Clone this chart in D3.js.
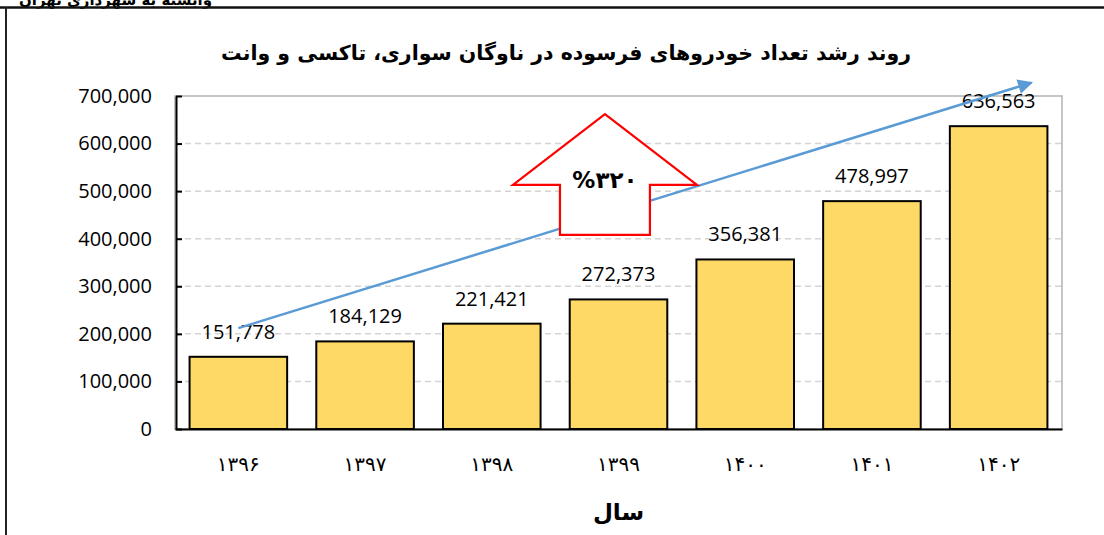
<!DOCTYPE html>
<html>
<head>
<meta charset="utf-8">
<script src="https://cdn.jsdelivr.net/npm/d3@7"></script>
<style>
  body { margin: 0; background: #fff; }
  svg { display: block; }
</style>
</head>
<body>
<div id="chart"></div>
<script>
// Données du graphique
const years = ["۱۳۹۶", "۱۳۹۷", "۱۳۹۸", "۱۳۹۹", "۱۴۰۰", "۱۴۰۱", "۱۴۰۲"];
const counts = [151778, 184129, 221421, 272373, 356381, 478997, 636563];
const yTicks = [0, 100000, 200000, 300000, 400000, 500000, 600000, 700000];
const title = "روند رشد تعداد خودروهای فرسوده در ناوگان سواری، تاکسی و وانت";
const xTitle = "سال";
const growthLabel = "%۳۲۰";
// flèche de tendance (index de catégorie, valeur)
const trendFrom = [0, 212000];
const trendTo = [6.26, 728000];

const width = 1104, height = 535;
const plot = { left: 175, right: 1062, top: 96, bottom: 429 };

const svg = d3.select("#chart").append("svg")
  .attr("width", width)
  .attr("height", height);

// Cadre extérieur (en-tête coupé en haut à gauche)
svg.append("text")
  .attr("x", 212).attr("y", 5)
  .attr("text-anchor", "end")
  .style("font-family", "DejaVu Sans")
  .style("font-weight", "bold")
  .style("font-size", "15px")
  .text("وابسته به شهرداری تهران");
svg.append("line")
  .attr("x1", 0).attr("x2", width).attr("y1", 7.5).attr("y2", 7.5)
  .attr("stroke", "#111").attr("stroke-width", 2.5);
svg.append("line")
  .attr("x1", 6).attr("x2", 6).attr("y1", 7).attr("y2", height)
  .attr("stroke", "#222").attr("stroke-width", 2);

// Echelles
const x = d3.scaleBand()
  .domain(years)
  .range([plot.left, plot.right])
  .paddingInner(0.23)
  .paddingOuter(0.115);

const y = d3.scaleLinear()
  .domain([0, 700000])
  .range([plot.bottom, plot.top]);

const idx = d3.scaleLinear()
  .domain([0, years.length - 1])
  .range([x(years[0]) + x.bandwidth() / 2, x(years[years.length - 1]) + x.bandwidth() / 2]);

// Bordure de la zone de tracé
svg.append("rect")
  .attr("x", plot.left).attr("y", plot.top)
  .attr("width", plot.right - plot.left)
  .attr("height", plot.bottom - plot.top)
  .attr("fill", "none")
  .attr("stroke", "#bfbfbf")
  .attr("stroke-width", 1.8);

// Quadrillage
svg.append("g")
  .selectAll("line")
  .data(yTicks.filter(d => d > 0 && d < 700000))
  .join("line")
    .attr("x1", plot.left).attr("x2", plot.right)
    .attr("y1", d => y(d)).attr("y2", d => y(d))
    .attr("stroke", "#d4d4d4")
    .attr("stroke-width", 1.5)
    .attr("stroke-dasharray", "6,4");

// Barres
svg.append("g")
  .selectAll("rect")
  .data(counts)
  .join("rect")
    .attr("x", (d, i) => x(years[i]))
    .attr("y", d => y(d))
    .attr("width", x.bandwidth())
    .attr("height", d => y(0) - y(d))
    .attr("fill", "#FFD966")
    .attr("stroke", "#000")
    .attr("stroke-width", 2);

// Axe Y
const yAxis = svg.append("g")
  .attr("transform", `translate(${plot.left + 1},0)`)
  .call(d3.axisLeft(y)
    .tickValues(yTicks)
    .tickSizeInner(-6)
    .tickSizeOuter(0)
    .tickPadding(24)
    .tickFormat(d3.format(",")));
yAxis.select(".domain").attr("stroke", "#000").attr("stroke-width", 2);
yAxis.selectAll(".tick line").attr("stroke", "#000").attr("stroke-width", 2);
yAxis.selectAll("text")
  .attr("fill", "#000")
  .style("font-family", "Open Sans")
  .style("font-size", "20px");

// Axe X
const xAxis = svg.append("g")
  .attr("transform", `translate(0,${plot.bottom})`)
  .call(d3.axisBottom(x).tickSize(0).tickPadding(28));
xAxis.select(".domain").attr("stroke", "#000").attr("stroke-width", 2);
xAxis.selectAll("text")
  .attr("fill", "#000")
  .style("font-family", "DejaVu Sans")
  .style("font-size", "20px");

// Etiquettes de valeurs
svg.append("g")
  .selectAll("text")
  .data(counts)
  .join("text")
    .attr("x", (d, i) => x(years[i]) + x.bandwidth() / 2)
    .attr("y", d => y(d) - 18)
    .attr("text-anchor", "middle")
    .style("font-family", "Open Sans")
    .style("font-size", "20px")
    .text(d => d3.format(",")(d));

// Flèche de tendance
svg.append("defs").append("marker")
  .attr("id", "head")
  .attr("viewBox", "0 0 10 10")
  .attr("refX", 9).attr("refY", 5)
  .attr("markerWidth", 7).attr("markerHeight", 6)
  .attr("markerUnits", "strokeWidth")
  .attr("orient", "auto")
  .append("path")
    .attr("d", "M0,0L10,5L0,10Z")
    .attr("fill", "#5B9BD5");

svg.append("line")
  .attr("x1", idx(trendFrom[0])).attr("y1", y(trendFrom[1]))
  .attr("x2", idx(trendTo[0])).attr("y2", y(trendTo[1]))
  .attr("stroke", "#5B9BD5")
  .attr("stroke-width", 2.5)
  .attr("marker-end", "url(#head)");

// Flèche rouge (+320%)
const ax = 2.893, wing = 0.726, shaft = 0.355;
const tipV = 662000, wingV = 513000, baseV = 408000;
const arrowPts = [
  [ax, tipV], [ax + wing, wingV], [ax + shaft, wingV], [ax + shaft, baseV],
  [ax - shaft, baseV], [ax - shaft, wingV], [ax - wing, wingV]
];
const xUnit = d3.scaleLinear().domain([0, 1]).range([0, idx(1) - idx(0)]);
svg.append("path")
  .attr("d", d3.line()
    .x(p => idx(0) + xUnit(p[0]))
    .y(p => y(p[1]))(arrowPts) + "Z")
  .attr("fill", "#fff")
  .attr("stroke", "#FF0000")
  .attr("stroke-width", 2.2)
  .attr("stroke-linejoin", "miter");

svg.append("text")
  .attr("x", idx(ax))
  .attr("y", y(wingV) + 3)
  .attr("text-anchor", "middle")
  .attr("direction", "ltr")
  .style("font-family", "DejaVu Sans")
  .style("font-weight", "bold")
  .style("font-size", "23px")
  .text(growthLabel);

// Titres
svg.append("text")
  .attr("x", 566).attr("y", 60)
  .attr("text-anchor", "middle")
  .attr("direction", "rtl")
  .style("font-family", "DejaVu Sans")
  .style("font-weight", "bold")
  .style("font-size", "20.5px")
  .text(title);

svg.append("text")
  .attr("x", (plot.left + plot.right) / 2).attr("y", 520)
  .attr("text-anchor", "middle")
  .attr("direction", "rtl")
  .style("font-family", "DejaVu Sans")
  .style("font-weight", "bold")
  .style("font-size", "23px")
  .text(xTitle);
</script>
</body>
</html>
